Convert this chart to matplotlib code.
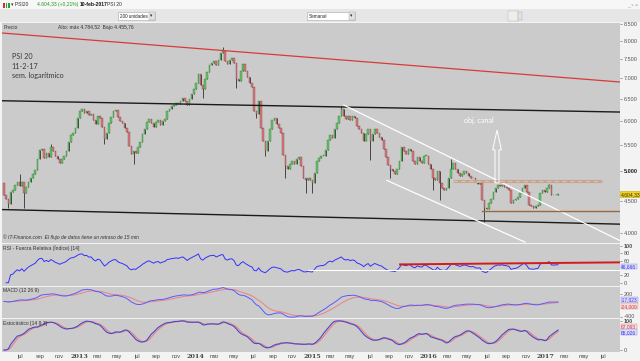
import numpy as np
import pandas as pd
import matplotlib
matplotlib.use('Agg')
import matplotlib.pyplot as plt
import matplotlib.dates as mdates
from matplotlib.patches import Rectangle, FancyArrow
from matplotlib.ticker import FixedLocator, NullLocator

plt.rcParams['font.family'] = ['Liberation Sans', 'DejaVu Sans']

# weekly PSI 20 closes, first bar = week of 11 May 2012
first_week = '2012-05-11'
first_open = 4800
closes = [
    4586, 4530, 4440, 4650, 4669, 4753, 4820, 4736, 4820, 4620,
    4720, 4820, 4890, 4960, 5030, 5235, 5405, 5425, 5250, 5345,
    5270, 5465, 5386, 5290, 5235, 5160, 5235, 5290, 5386, 5560,
    5700, 5740, 5850, 6060, 6213, 6258, 6170, 6213, 6125, 6150,
    6015, 5930, 6103, 6060, 5870, 5620, 5740, 5950, 6080, 6213,
    6235, 6080, 5995, 5950, 5850, 5765, 5483, 5330, 5386, 5345,
    5465, 5560, 5720, 5826, 5975, 6040, 5950, 5870, 5975, 6015,
    5910, 5995, 6040, 6213, 6258, 6325, 6345, 6390, 6370, 6439,
    6510, 6439, 6345, 6485, 6600, 6720, 6865, 7090, 6815, 6720,
    6965, 7145, 7325, 7375, 7428, 7325, 7480, 7645, 7725, 7428,
    7350, 7480, 7510, 7375, 6965, 6915, 7166, 7350, 7166, 7015,
    6865, 6770, 6213, 6150, 6439, 5850, 5582, 5386, 5582, 5826,
    6015, 6060, 5930, 5850, 5740, 5310, 5105, 5050, 5140, 5197,
    5140, 5235, 5270, 5105, 4875, 4839, 4875, 4839, 4787, 4980,
    5197, 5250, 5290, 5290, 5405, 5600, 5700, 5640, 5826, 5950,
    6103, 6258, 6103, 6040, 6103, 6015, 6103, 6060, 5889, 5826,
    5740, 5582, 5720, 5826, 5582, 5720, 5826, 5740, 5660, 5600,
    5425, 5270, 5120, 5050, 5015, 4960, 5050, 5197, 5465, 5386,
    5330, 5425, 5386, 5197, 5140, 5270, 5197, 5160, 5290, 5290,
    5140, 5050, 4875, 4839, 5015, 4787, 4703, 4669, 4703, 4875,
    5050, 5160, 5050, 4980, 4910, 4960, 5015, 4980, 4910, 4875,
    4890, 4805, 4770, 4787, 4505, 4390, 4360, 4455, 4530, 4635,
    4703, 4753, 4736, 4753, 4720, 4703, 4669, 4470, 4505, 4520,
    4555, 4620, 4703, 4753, 4635, 4425, 4410, 4390, 4410, 4425,
    4620, 4669, 4650, 4703, 4753, 4600, 4586, 4600, 4604.33,
]
# wicks that stick out clearly (bar index: price)
high_wicks = {7: 4950, 21: 5520, 98: 7836, 151: 6325, 200: 5235, 244: 4770}
low_wicks = {2: 4390, 9: 4390, 45: 5520, 58: 5130, 89: 6510, 104: 6740,
             113: 6050, 117: 5290, 126: 4875, 135: 4620, 138: 4620,
             164: 5215, 173: 4875, 192: 4669, 195: 4505, 215: 4165}

# drawn lines: (start date, start price, end date, end price)
red_line = ('2012-05-05', 8229, '2017-08-23', 6898)
top_black = ('2012-05-05', 6448, '2017-08-23', 6191)
low_black = ('2012-05-05', 4358, '2017-08-23', 4135)
chan_top = ('2015-04-11', 6348, '2017-08-23', 3897)
chan_low = ('2015-08-24', 4839, '2016-10-29', 3877)
resist = ('2016-03-18', 4827, '2017-06-27', 4827)
support = ('2016-06-17', 4340, '2017-08-23', 4340)
rsi_red = ('2015-10-04', 49.7, '2017-08-23', 55.3)
rsi_white = ('2014-12-20', 33.5, '2017-08-23', 33.5)

price_ticks = [4000, 4500, 5000, 5500, 6000, 6500, 7000, 7500, 8000, 8500]
month_names = {3: 'mar', 5: 'may', 7: 'jul', 9: 'sep', 11: 'nov'}

c = np.array(closes, dtype=float)
o = np.r_[first_open, c[:-1]]
hi = np.maximum(o, c)
lo = np.minimum(o, c)
for k, v in high_wicks.items():
    hi[k] = max(hi[k], v)
for k, v in low_wicks.items():
    lo[k] = min(lo[k], v)
dates = pd.date_range(first_week, periods=len(c), freq='7D')
xd = mdates.date2num(dates)

# indicators
s = pd.Series(c)
diff = s.diff()
gain = diff.clip(lower=0).ewm(alpha=1 / 14, adjust=False).mean()
loss = (-diff.clip(upper=0)).ewm(alpha=1 / 14, adjust=False).mean()
rsi = 100 - 100 / (1 + gain / loss)
macd = s.ewm(span=12, adjust=False).mean() - s.ewm(span=26, adjust=False).mean()
signal = macd.ewm(span=9, adjust=False).mean()
hh = pd.Series(hi).rolling(14, min_periods=1).max()
ll = pd.Series(lo).rolling(14, min_periods=1).min()
stk = ((s - ll) / (hh - ll) * 100).rolling(9, min_periods=1).mean()
std = stk.rolling(3, min_periods=1).mean()

W, H = 640, 361
fig = plt.figure(figsize=(6.4, 3.61), dpi=100, facecolor='#f3f3f3')


def fr(x0, y0, x1, y1):
    return [x0 / W, 1 - y1 / H, (x1 - x0) / W, (y1 - y0) / H]


panel = '#cbcbcb'
ax = fig.add_axes(fr(2, 22.7, 620, 242.7), facecolor=panel)
ax_rsi = fig.add_axes(fr(2, 243.7, 620, 285.5), facecolor=panel, sharex=ax)
ax_macd = fig.add_axes(fr(2, 286.5, 620, 318), facecolor=panel, sharex=ax)
ax_st = fig.add_axes(fr(2, 319, 620, 352), facecolor=panel, sharex=ax)

xlim = mdates.date2num(pd.to_datetime(['2012-05-05', '2017-08-23']))
for a in (ax, ax_rsi, ax_macd, ax_st):
    for sp in a.spines.values():
        sp.set_visible(False)
    a.yaxis.tick_right()
    a.tick_params(axis='y', labelsize=4.0, colors='#555555', length=1.5,
                  width=0.4, pad=1.5)
    a.tick_params(axis='x', length=0, labelbottom=False)

ax.set_xlim(*xlim)

# candles
up = c >= o
ax.vlines(xd, lo, hi, color='#303030', lw=0.6, zorder=2)
ax.bar(xd, np.maximum(np.abs(c - o), 8), bottom=np.minimum(o, c),
       width=4.8, color=np.where(up, '#66c466', '#d87a7d'),
       edgecolor=np.where(up, '#2f6f2f', '#7a3535'), linewidth=0.25, zorder=3)
ax.set_yscale('log')
ax.set_ylim(3868, 8540)
ax.yaxis.set_major_locator(FixedLocator(price_ticks))
ax.yaxis.set_minor_locator(NullLocator())
ax.set_yticklabels([f'{v:,}'.replace(',', '.') for v in price_ticks])
for t in ax.get_yticklabels():
    if t.get_text() == '5.000':
        t.set_fontweight('bold')
        t.set_color('#222222')


def seg(a, line, **kw):
    d0, p0, d1, p1 = line
    a.plot(pd.to_datetime([d0, d1]), [p0, p1], **kw)


seg(ax, red_line, color='#d83a3a', lw=0.9, zorder=4)
seg(ax, top_black, color='#1a1a1a', lw=1.0, zorder=4)
seg(ax, low_black, color='#1a1a1a', lw=1.0, zorder=4)
seg(ax, chan_top, color='white', lw=0.9, zorder=4)
seg(ax, chan_low, color='white', lw=0.9, zorder=4)
seg(ax, resist, color='#c8a48e', lw=2.2, zorder=4, solid_capstyle='butt')
seg(ax, resist, color='#dcc2b0', lw=0.8, zorder=5, ls=(0, (4, 3)))
seg(ax, support, color='#9b6a3c', lw=1.0, zorder=4)

# hollow arrow and label
arr = FancyArrow(0.801, 0.272, 0, 0.24, width=0.0065, head_width=0.014,
                 head_length=0.09, length_includes_head=True,
                 transform=ax.transAxes, facecolor='none', edgecolor='white',
                 lw=0.7, zorder=6)
ax.add_patch(arr)
ax.text(0.772, 0.555, 'obj. canal', transform=ax.transAxes, color='white',
        fontsize=5.2, ha='center', va='center', family='Lato')

for i, t in enumerate(['PSI 20', '11-2-17', 'sem. logarítmico']):
    ax.text(0.016, 0.848 - i * 0.045, t, transform=ax.transAxes,
            fontsize=5.2, color='#3a3a3a', va='center', family='Lato')

ax.text(0.002, 0.988, 'Precio', transform=ax.transAxes, fontsize=3.6,
        color='#333333', va='top')
ax.text(0.09, 0.988, 'Alto: máx 4.784,52  Bajo 4.455,76', transform=ax.transAxes,
        fontsize=3.6, color='#333333', va='top')
ax.text(0.002, 0.015, '© IT-Finance.com  El flujo de datos tiene un retraso de 15 min',
        transform=ax.transAxes, fontsize=3.6, color='#333333', style='italic')

ax.text(1.001, c[-1], '4.604,33', transform=ax.get_yaxis_transform(),
        fontsize=3.6, color='#333300', va='center', ha='left', zorder=10,
        bbox=dict(boxstyle='square,pad=0.1', fc='#f2d22a', ec='#c8a800', lw=0.4),
        clip_on=False)

box_blue = dict(boxstyle='square,pad=0.1', fc='#dcdcf5', ec='#8888cc', lw=0.3)
box_red = dict(boxstyle='square,pad=0.1', fc='#f5dcdc', ec='#cc8888', lw=0.3)

# RSI
ax_rsi.plot(xd, rsi, color='#3232ff', lw=0.7)
seg(ax_rsi, rsi_white, color='white', lw=0.8)
seg(ax_rsi, rsi_red, color='#d41a1a', lw=1.4)
ax_rsi.set_ylim(-7.6, 106)
ax_rsi.set_yticks([0, 20, 60, 80, 100])
ax_rsi.set_yticklabels(['0', '20', '60', '80', '100'])
ax_rsi.get_yticklabels()[-1].set_fontweight('bold')
ax_rsi.text(0.002, 0.97, 'RSI - Fuerza Relativa (Índice) [14]',
            transform=ax_rsi.transAxes, fontsize=3.6, color='#333333', va='top')
ax_rsi.text(1.002, 44, '46,666', transform=ax_rsi.get_yaxis_transform(),
            fontsize=3.5, color='#3232ff', va='center', clip_on=False, zorder=10,
            bbox=box_blue)

# MACD
ax_macd.plot(xd, signal, color='#ee8080', lw=0.7)
ax_macd.plot(xd, macd, color='#5a5aff', lw=0.7)
ax_macd.set_ylim(-440, 400)
ax_macd.set_yticks([-400, 200])
ax_macd.set_yticklabels(['-400', '200'])
ax_macd.text(0.002, 0.95, 'MACD (12 26 9)', transform=ax_macd.transAxes,
             fontsize=3.6, color='#333333', va='top')
ax_macd.text(1.002, 40, '-17,023', transform=ax_macd.get_yaxis_transform(),
             fontsize=3.5, color='#3232ff', va='center', clip_on=False, zorder=10,
             bbox=box_blue)
ax_macd.text(1.002, -130, '-24,009', transform=ax_macd.get_yaxis_transform(),
             fontsize=3.5, color='#d04040', va='center', clip_on=False, zorder=10,
             bbox=box_red)

# Stochastic
ax_st.plot(xd, std, color='#ee8080', lw=0.8)
ax_st.plot(xd, stk, color='#4848c8', lw=0.8)
ax_st.set_ylim(-6.8, 105.8)
ax_st.set_yticks([0, 100])
ax_st.set_yticklabels(['0', '100'])
ax_st.get_yticklabels()[-1].set_fontweight('bold')
ax_st.text(0.002, 0.95, 'Estocástico [14 9 3]', transform=ax_st.transAxes,
           fontsize=3.6, color='#333333', va='top')
ax_st.text(1.002, 78, '67,093', transform=ax_st.get_yaxis_transform(),
           fontsize=3.5, color='#d04040', va='center', clip_on=False, zorder=10,
           bbox=box_red)
ax_st.text(1.002, 60, '65,026', transform=ax_st.get_yaxis_transform(),
           fontsize=3.5, color='#3232ff', va='center', clip_on=False, zorder=10,
           bbox=box_blue)

# date axis along the bottom
tick_dates, tick_labels = [], []
for d in pd.date_range('2012-07-01', '2017-08-01', freq='MS'):
    if d.month == 1:
        tick_dates.append(d)
        tick_labels.append(str(d.year))
    elif d.month in month_names:
        tick_dates.append(d)
        tick_labels.append(month_names[d.month])
ax_st.set_xticks(mdates.date2num(tick_dates))
ax_st.set_xticklabels(tick_labels)
ax_st.tick_params(axis='x', labelbottom=True, labelsize=4.0, colors='#444444',
                  pad=1.5, length=0)
for t in ax_st.get_xticklabels():
    if t.get_text().isdigit():
        t.set_fontweight('bold')
        t.set_fontsize(4.6)
        t.set_family('DejaVu Serif')

# window toolbar
fig.patches.append(Rectangle((0, 1 - 9 / H), 1, 9 / H, transform=fig.transFigure,
                             fc='#f7f7f7', ec='none', zorder=0))
fig.patches.append(Rectangle((0, 1 - 22 / H), 1, 13 / H, transform=fig.transFigure,
                             fc='#e6e6e6', ec='none', zorder=0))
for x0, col in [(3, '#d03030'), (5.5, '#30a030'), (8, '#30a030')]:
    fig.patches.append(Rectangle((x0 / W, 1 - 8 / H), 1.5 / W, 5 / H,
                                 transform=fig.transFigure, fc=col, ec='none'))
fig.text(11 / W, 1 - 4.5 / H, '▾ PSI20', fontsize=3.6, color='#333333', va='center')
fig.text(37 / W, 1 - 4.5 / H, '4.604,33 (+0,21%)', fontsize=3.6, color='#1d9a1d',
         va='center')
fig.text(80 / W, 1 - 4.5 / H, '10-feb-2017', fontsize=3.6, color='#111111',
         va='center', fontweight='bold')
fig.text(107 / W, 1 - 4.5 / H, 'PSI 20', fontsize=3.6, color='#333333', va='center')
fig.text(627 / W, 1 - 4.5 / H, '_ ▫ ×', fontsize=4, color='#999999', va='center')
for x0, x1, label in [(118, 155, '200 unidades'), (307, 355, 'Semanal')]:
    fig.patches.append(Rectangle((x0 / W, 1 - 20 / H), (x1 - x0) / W, 8 / H,
                                 transform=fig.transFigure, fc='white',
                                 ec='#a8a8a8', lw=0.4))
    fig.patches.append(Rectangle(((x1 - 6) / W, 1 - 19.5 / H), 5.5 / W, 7 / H,
                                 transform=fig.transFigure, fc='#e2e2e2',
                                 ec='#a8a8a8', lw=0.3))
    fig.text((x0 + 2) / W, 1 - 16 / H, label, fontsize=3.3, color='#222222',
             va='center')
    fig.text((x1 - 3.3) / W, 1 - 16 / H, '▾', fontsize=3.5, color='#333333',
             va='center', ha='center')
fig.patches.append(Rectangle((508 / W, 1 - 21 / H), 10 / W, 10 / H,
                             transform=fig.transFigure, fc='#eef0e8',
                             ec='#b0b0b0', lw=0.3))
fig.patches.append(Rectangle((518 / W, 1 - 20 / H), 4 / W, 8 / H,
                             transform=fig.transFigure, fc='#e2e2e2',
                             ec='#a8a8a8', lw=0.3))

fig.savefig('out.png', dpi=100, facecolor=fig.get_facecolor())
